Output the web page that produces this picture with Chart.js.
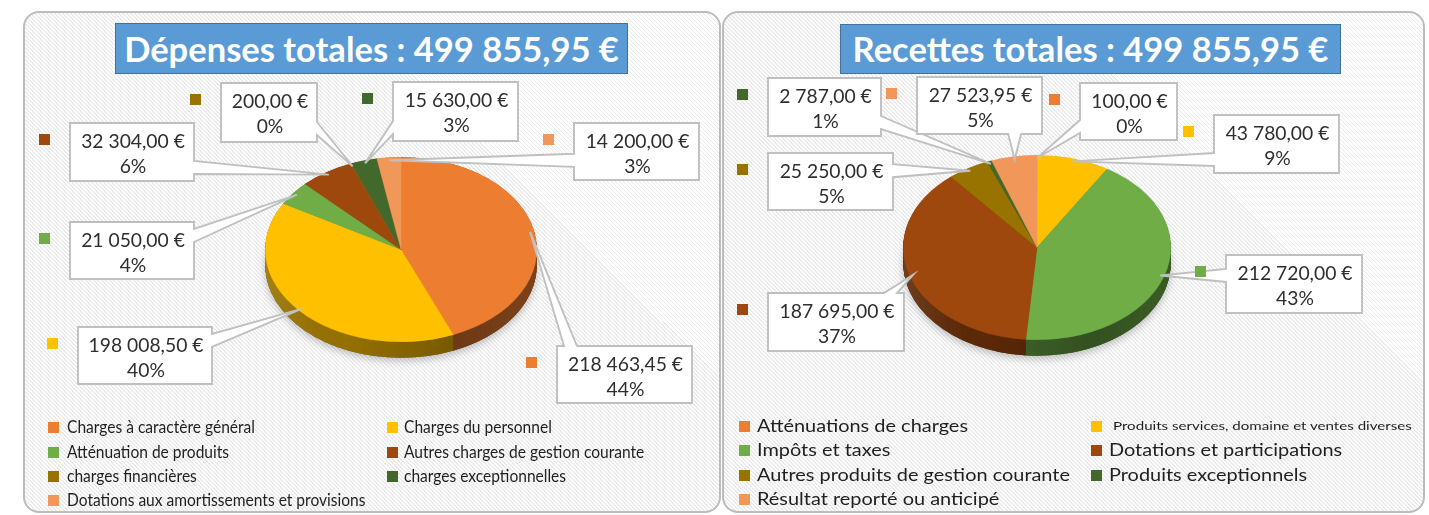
<!DOCTYPE html>
<html><head><meta charset="utf-8">
<script src="https://cdn.jsdelivr.net/npm/chart.js@4.4.1/dist/chart.umd.min.js"></script>
<style>
html,body{margin:0;padding:0;background:#fff;}
body{position:relative;width:1429px;height:515px;overflow:hidden;font-family:Lato,"Noto Sans",sans-serif;}
.panel{position:absolute;box-sizing:border-box;border:2px solid #bdbdbd;border-radius:16px;
  background:repeating-linear-gradient(45deg,#ffffff 0px,#ffffff 1.8px,#ebebeb 1.8px,#ebebeb 2.83px);}
.title{position:absolute;box-sizing:border-box;background:#5b9bd5;border:1px solid #41719c;color:#fff;font-weight:700;white-space:nowrap;}
.title span{position:absolute;left:0;right:0;text-align:center;line-height:1.2;}
canvas{position:absolute;left:0;top:0;}
.lgm{position:absolute;width:11px;height:11px;}
.lgt{position:absolute;white-space:nowrap;color:#1f1f1f;line-height:20px;transform-origin:0 50%;}
</style></head><body>
<div class="panel" style="left:23px;top:11px;width:698px;height:502px"></div>
<div class="panel" style="left:722px;top:11px;width:703px;height:502px"></div>
<div class="title" id="t1" style="left:115px;top:23px;width:513px;height:51px"><span></span></div>
<div class="title" id="t2" style="left:840px;top:24px;width:501px;height:50px"><span></span></div>
<canvas id="c1" width="1429" height="515"></canvas>
<canvas id="c2" width="1429" height="515"></canvas>
<div id="legends"></div>
<script>
// ---------------- data ----------------
const depTitle = 'Dépenses totales : 499 855,95 €';
const recTitle = 'Recettes totales : 499 855,95 €';
const depCategories = ['Charges à caractère général','Charges du personnel','Atténuation de produits','Autres charges de gestion courante','charges financières','charges exceptionnelles','Dotations aux amortissements et provisions'];
const depValues = [218463.45, 198008.50, 21050.00, 32304.00, 200.00, 15630.00, 14200.00];
const depPercents = [44, 40, 4, 6, 0, 3, 3];
const recCategories = ['Atténuations de charges','Produits services,  domaine et ventes diverses','Impôts et taxes','Dotations et participations','Autres produits de gestion courante','Produits exceptionnels','Résultat reporté ou anticipé'];
const recValues = [100.00, 43780.00, 212720.00, 187695.00, 25250.00, 2787.00, 27523.95];
const recPercents = [0, 9, 43, 37, 5, 1, 5];
const sliceColors = ['#ED7D31','#FFC000','#70AD47','#9E480E','#997300','#43682B','#F1975A'];

// ---------------- layout (positions / sizes) ----------------
const W = 1429, H = 515;
const FONT = 'Lato, "Noto Sans", sans-serif';
const depPie = {cx: 401, cy: 249.5, r: 136, tilt: 0.68, depth: 16};
const recPie = {cx: 1037, cy: 247.5, r: 134, tilt: 0.69, depth: 16};
const depBoxes = [[557,346,135,57],[78,327,134,57],[70,222,124,57],[70,123,124,58],[221,83,96,59],[393,82,125,59],[574,123,125,57]];
const recBoxes = [[1080,83,97,57],[1214,115,125,58],[1226,255,136,58],[768,293,136,58],[768,153,125,57],[768,78,113,58],[917,77,125,57]];
const depLegend = {cols:[[48,66.5],[387,404]], rows:[427,452,476,500], fontPx:16.8, refText:'Charges à caractère général', refW:188};
const recLegend = {cols:[[739,757],[1091,1109]], rows:[426,450,475,499], fontPx:16.5, refText:'Atténuations de charges', refW:211,
                   small:{index:1, fontPx:12, w:303, textX:1113}};

// ---------------- helpers ----------------
const mctx = document.createElement('canvas').getContext('2d');
function textW(font, s){ mctx.font = font; return mctx.measureText(s).width; }
function fmtEuro(v){
  const parts = v.toFixed(2).split('.');
  return parts[0].replace(/\B(?=(\d{3})+(?!\d))/g, ' ') + ',' + parts[1] + ' €';
}
function shade(hex, f){
  const n = parseInt(hex.slice(1), 16);
  return 'rgb(' + Math.round(((n>>16)&255)*f) + ',' + Math.round(((n>>8)&255)*f) + ',' + Math.round((n&255)*f) + ')';
}
const lblFs = 18 * 115 / textW('18px ' + FONT, '218 463,45 €');

// titles
const titleFs = 30 * 495 / textW('bold 30px ' + FONT, depTitle);
[['t1', depTitle, 23], ['t2', recTitle, 24]].forEach(([id, txt, top]) => {
  const el = document.getElementById(id).querySelector('span');
  el.textContent = txt;
  el.style.fontSize = titleFs + 'px';
  el.style.top = (62 - top - 1 - 0.987 * titleFs) + 'px';
});

// legends
function buildLegend(cats, L){
  const host = document.getElementById('legends');
  const s = L.refW / textW(L.fontPx + 'px ' + FONT, L.refText);
  cats.forEach((name, i) => {
    const col = i % 2, row = Math.floor(i / 2);
    const y = L.rows[row];
    const m = document.createElement('div');
    m.className = 'lgm';
    m.style.left = L.cols[col][0] + 'px';
    m.style.top = (y - 5.5) + 'px';
    m.style.background = sliceColors[i];
    host.appendChild(m);
    const t = document.createElement('div');
    t.className = 'lgt';
    t.textContent = name;
    t.style.top = (y - 10) + 'px';
    if (L.small && L.small.index === i) {
      t.style.fontSize = L.small.fontPx + 'px';
      t.style.left = L.small.textX + 'px';
      const ss = L.small.w / textW(L.small.fontPx + 'px ' + FONT, name);
      t.style.transform = 'scaleX(' + ss + ')';
    } else {
      t.style.fontSize = L.fontPx + 'px';
      t.style.left = L.cols[col][1] + 'px';
      t.style.transform = 'scaleX(' + s + ')';
    }
    host.appendChild(t);
  });
}
buildLegend(depCategories, depLegend);
buildLegend(recCategories, recLegend);

// callout shape
function calloutPath(ctx, bx, by, bw, bh, tx, ty, w){
  const L = bx, R = bx + bw, T = by, B = by + bh;
  const dxo = Math.max(L - tx, 0, tx - R), dyo = Math.max(T - ty, 0, ty - B);
  let side = null;
  if (dxo > 0 || dyo > 0) side = dxo >= dyo ? (tx < L ? 'left' : 'right') : (ty < T ? 'top' : 'bottom');
  const hw = w / 2, m = 7;
  const cyb = Math.min(Math.max(ty, T + m + hw), B - m - hw);
  const cxb = Math.min(Math.max(tx, L + m + hw), R - m - hw);
  ctx.beginPath();
  ctx.moveTo(L, T);
  if (side === 'top') { ctx.lineTo(cxb - hw, T); ctx.lineTo(tx, ty); ctx.lineTo(cxb + hw, T); }
  ctx.lineTo(R, T);
  if (side === 'right') { ctx.lineTo(R, cyb - hw); ctx.lineTo(tx, ty); ctx.lineTo(R, cyb + hw); }
  ctx.lineTo(R, B);
  if (side === 'bottom') { ctx.lineTo(cxb + hw, B); ctx.lineTo(tx, ty); ctx.lineTo(cxb - hw, B); }
  ctx.lineTo(L, B);
  if (side === 'left') { ctx.lineTo(L, cyb + hw); ctx.lineTo(tx, ty); ctx.lineTo(L, cyb - hw); }
  ctx.closePath();
}

function pie3dPlugin(cfg){
  let saved = false;
  return {
    id: 'pie3d',
    beforeDatasetsDraw(chart){
      const arcs = chart.getDatasetMeta(0).data;
      if (!arcs.length) return;
      const ctx = chart.ctx;
      const c = arcs[0].getProps(['x','y','outerRadius'], true);
      const k = cfg.tilt, off = cfg.depth / k, R = c.outerRadius;
      ctx.save(); saved = true;
      ctx.translate(c.x, c.y); ctx.scale(1, k); ctx.translate(-c.x, -c.y);
      // soft shadow under the pie
      ctx.save();
      ctx.shadowColor = 'rgba(0,0,0,0.25)'; ctx.shadowBlur = 8; ctx.shadowOffsetY = 3;
      ctx.beginPath(); ctx.arc(c.x, c.y + off, R, 0, Math.PI * 2); ctx.fillStyle = '#555'; ctx.fill();
      ctx.restore();
      // side walls
      const colors = chart.data.datasets[0].backgroundColor;
      const step = 0.5 / k;
      for (let d = off; d > 0; d -= step) {
        arcs.forEach((a, i) => {
          const p = a.getProps(['startAngle','endAngle'], true);
          ctx.beginPath(); ctx.moveTo(c.x, c.y + d);
          ctx.arc(c.x, c.y + d, R, p.startAngle, p.endAngle);
          ctx.closePath(); ctx.fillStyle = shade(colors[i], 0.6); ctx.fill();
        });
      }
      // lighting on side walls
      const g = ctx.createLinearGradient(c.x - R, 0, c.x + R, 0);
      g.addColorStop(0, 'rgba(255,255,255,0.10)');
      g.addColorStop(0.3, 'rgba(0,0,0,0.02)');
      g.addColorStop(0.7, 'rgba(0,0,0,0.22)');
      g.addColorStop(1, 'rgba(0,0,0,0.12)');
      ctx.beginPath();
      ctx.moveTo(c.x + R, c.y);
      ctx.lineTo(c.x + R, c.y + off);
      ctx.arc(c.x, c.y + off, R, 0, Math.PI, false);
      ctx.lineTo(c.x - R, c.y);
      ctx.arc(c.x, c.y, R, Math.PI, 0, true);
      ctx.closePath();
      ctx.fillStyle = g; ctx.fill();
    },
    afterDatasetsDraw(chart){
      if (saved) { chart.ctx.restore(); saved = false; }
    },
    afterDraw(chart){
      const arcs = chart.getDatasetMeta(0).data;
      if (!arcs.length) return;
      const ctx = chart.ctx;
      const c = arcs[0].getProps(['x','y','outerRadius'], true);
      const vals = chart.data.datasets[0].data;
      const colors = chart.data.datasets[0].backgroundColor;
      arcs.forEach((a, i) => {
        const p = a.getProps(['startAngle','endAngle'], true);
        const mid = (p.startAngle + p.endAngle) / 2;
        const rr = c.outerRadius * 0.97;
        const tx = c.x + rr * Math.cos(mid), ty = c.y + rr * cfg.tilt * Math.sin(mid);
        const [bx, by, bw, bh] = cfg.boxes[i];
        ctx.save();
        calloutPath(ctx, bx, by, bw, bh, tx, ty, 13);
        ctx.fillStyle = '#ffffff'; ctx.fill();
        ctx.lineWidth = 1.9; ctx.strokeStyle = '#c0c0c0'; ctx.lineJoin = 'miter'; ctx.stroke();
        ctx.fillStyle = colors[i];
        ctx.fillRect(bx - 31, by + 11, 11, 11);
        ctx.fillStyle = '#2e2e2e';
        ctx.font = lblFs + 'px ' + FONT;
        ctx.textAlign = 'center'; ctx.textBaseline = 'alphabetic';
        ctx.fillText(fmtEuro(vals[i]), bx + bw / 2 + 1, by + 24.5);
        ctx.fillText(cfg.pcts[i] + '%', bx + bw / 2 + 1, by + 50);
        ctx.restore();
      });
    }
  };
}

function makeChart(id, cats, values, pcts, pie, boxes){
  return new Chart(document.getElementById(id), {
    type: 'pie',
    data: { labels: cats, datasets: [{ data: values, backgroundColor: sliceColors, borderColor: sliceColors, borderWidth: 0.5, hoverOffset: 0, clip: false }] },
    options: {
      responsive: false, animation: false, events: [],
      layout: { padding: { left: pie.cx - pie.r, right: W - pie.cx - pie.r, top: pie.cy - pie.r, bottom: H - pie.cy - pie.r } },
      plugins: { legend: { display: false }, tooltip: { enabled: false }, title: { display: false } }
    },
    plugins: [pie3dPlugin({ tilt: pie.tilt, depth: pie.depth, boxes: boxes, pcts: pcts })]
  });
}
makeChart('c1', depCategories, depValues, depPercents, depPie, depBoxes);
makeChart('c2', recCategories, recValues, recPercents, recPie, recBoxes);
</script>
</body></html>
